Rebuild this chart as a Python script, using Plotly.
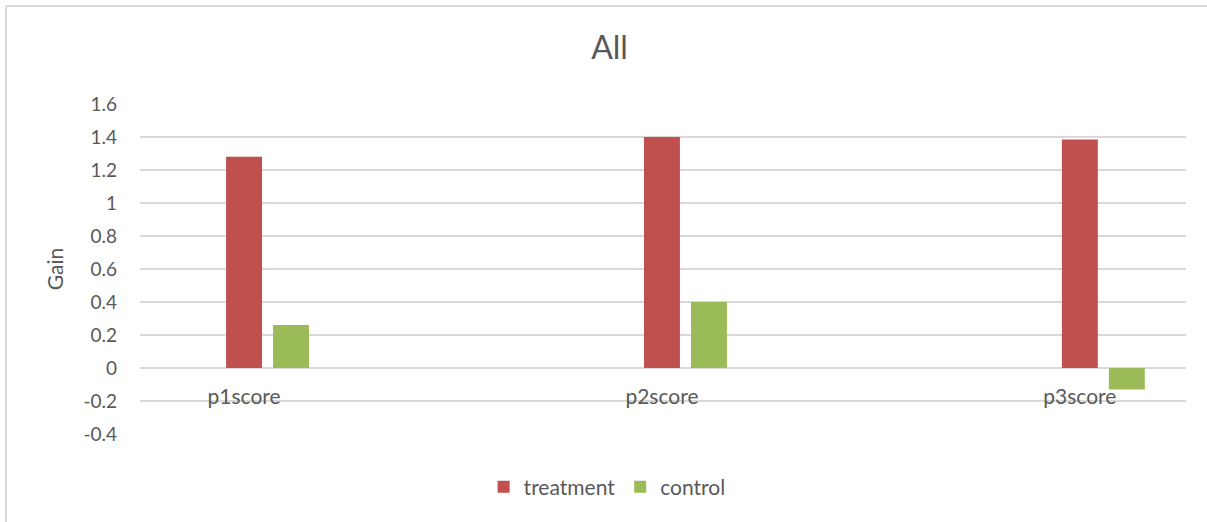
import plotly.graph_objects as go

categories = ["p1score", "p2score", "p3score"]
treatment = [1.28, 1.40, 1.385]
control = [0.26, 0.40, -0.13]
y_ticks = [-0.4, -0.2, 0, 0.2, 0.4, 0.6, 0.8, 1, 1.2, 1.4, 1.6]
y_tick_text = ["-0.4", "-0.2", "0", "0.2", "0.4", "0.6", "0.8", "1", "1.2", "1.4", "1.6"]

FONT = "Lato"
TXT = "#595959"
GRID = "#D9D9D9"
BW = 0.086

fig = go.Figure()
fig.add_trace(go.Bar(name="treatment", x=categories, y=treatment,
                     marker=dict(color="#C0504D", line=dict(width=0)),
                     width=BW, offset=-BW / 2))
fig.add_trace(go.Bar(name="control", x=categories, y=control,
                     marker=dict(color="#9BBB59", line=dict(width=0)),
                     width=BW, offset=0.1124 - BW / 2))

fig.update_layout(
    width=1207, height=522,
    margin=dict(l=140, r=21, t=104, b=88, autoexpand=False),
    paper_bgcolor="white", plot_bgcolor="white",
    font=dict(family=FONT, color=TXT, size=19),
    title=dict(text="All", x=0.505, xref="container", xanchor="center",
               y=1 - 48 / 522, yref="container", yanchor="middle",
               font=dict(size=32, color=TXT, family=FONT)),
    barmode="group",
    showlegend=True,
    legend=dict(orientation="h", x=0.503, xref="container", xanchor="center",
                y=1 - 487 / 522, yref="container", yanchor="middle",
                font=dict(size=21, color=TXT), itemwidth=30, traceorder="normal"),
    xaxis=dict(type="category", range=[-0.249, 2.254], showgrid=False,
               showline=False, zeroline=False, ticks="", automargin=False,
               anchor="free", position=0.2, ticklabelstandoff=14,
               tickfont=dict(size=21, color=TXT)),
    yaxis=dict(range=[-0.4, 1.6], tickvals=y_ticks, ticktext=y_tick_text,
               showgrid=True, gridcolor=GRID, gridwidth=2, automargin=False,
               zeroline=True, zerolinecolor=GRID, zerolinewidth=2,
               showline=False, ticks="", ticklabelstandoff=22,
               tickfont=dict(size=19, color=TXT),
               title=dict(text="Gain", font=dict(size=21, color=TXT), standoff=14)),
    shapes=[
        dict(type="line", xref="paper", yref="paper",
             x0=(6 - 140) / 1046, x1=(1207 - 140) / 1046,
             y0=(434 - 6) / 330, y1=(434 - 6) / 330,
             line=dict(color=GRID, width=2)),
        dict(type="line", xref="paper", yref="paper",
             x0=(6 - 140) / 1046, x1=(6 - 140) / 1046,
             y0=(434 - 6) / 330, y1=-88 / 330,
             line=dict(color=GRID, width=2)),
    ],
)

fig.write_html("out.html")
